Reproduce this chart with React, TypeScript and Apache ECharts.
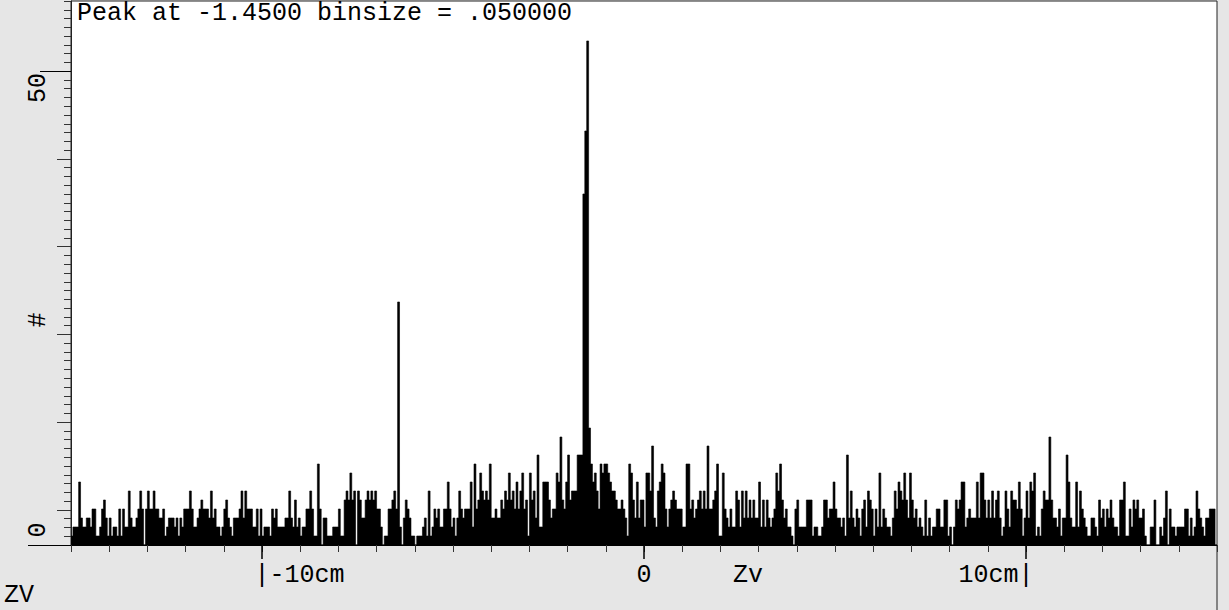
import React, { useEffect, useRef } from "react";
import * as echarts from "echarts";

// Histogram range and bin size (cm)
const X_MIN = -15;
const X_MAX = 15;
const BIN_SIZE = 0.05;
const Y_MAX = 60.44;

// Counts per 0.05 cm bin, in 5 cm segments
const countsM15toM10 = [
  1, 2, 2, 2, 7, 3, 2, 2, 3, 3, 2, 4, 4, 1, 1, 2, 4, 5, 3, 1,
  3, 1, 2, 2, 1, 4, 1, 4, 2, 2, 6, 3, 2, 2, 3, 4, 6, 4, 0, 4,
  6, 4, 4, 6, 4, 4, 3, 3, 4, 1, 2, 3, 3, 3, 2, 3, 1, 3, 2, 4,
  4, 4, 6, 4, 2, 2, 3, 4, 5, 4, 4, 4, 3, 6, 3, 4, 2, 2, 1, 2,
  4, 5, 3, 2, 1, 3, 3, 3, 4, 6, 3, 6, 4, 4, 4, 2, 2, 4, 1, 4,
];
const countsM10toM5 = [
  1, 2, 2, 2, 1, 4, 3, 4, 2, 2, 2, 2, 3, 3, 6, 3, 2, 5, 2, 3,
  1, 2, 2, 4, 4, 6, 4, 1, 1, 9, 4, 0, 3, 3, 1, 1, 1, 2, 2, 2,
  4, 1, 1, 5, 6, 5, 8, 5, 6, 0, 6, 5, 3, 3, 5, 6, 5, 6, 5, 6,
  4, 4, 2, 0, 1, 1, 4, 4, 5, 6, 4, 27, 2, 0, 3, 5, 4, 3, 1, 1,
  0, 1, 1, 1, 2, 3, 1, 6, 1, 2, 4, 3, 4, 2, 2, 4, 4, 7, 4, 2,
];
const countsM5to0 = [
  3, 1, 3, 6, 4, 3, 4, 4, 4, 7, 2, 9, 4, 5, 8, 6, 5, 6, 5, 9,
  3, 3, 4, 3, 3, 5, 4, 6, 5, 8, 5, 6, 4, 7, 4, 6, 8, 4, 5, 1,
  8, 5, 6, 3, 10, 2, 2, 7, 7, 7, 5, 3, 4, 4, 8, 7, 12, 5, 4, 7,
  10, 5, 6, 6, 6, 10, 10, 10, 39, 46, 56, 13, 9, 7, 8, 6, 4, 9, 8, 9,
  9, 8, 7, 6, 6, 5, 4, 4, 5, 4, 3, 1, 9, 8, 5, 3, 7, 3, 5, 5,
];
const counts0to5 = [
  2, 8, 8, 6, 11, 3, 2, 6, 7, 9, 8, 4, 2, 4, 5, 6, 5, 4, 4, 4,
  2, 2, 9, 9, 4, 5, 3, 4, 5, 6, 4, 6, 4, 11, 4, 4, 5, 6, 9, 1,
  1, 8, 4, 3, 2, 4, 2, 2, 6, 5, 2, 6, 3, 6, 3, 5, 3, 5, 3, 3,
  7, 2, 5, 2, 5, 3, 2, 3, 4, 8, 6, 9, 5, 3, 4, 2, 2, 1, 0, 4,
  5, 2, 2, 2, 2, 5, 5, 5, 1, 2, 2, 1, 1, 2, 5, 5, 3, 4, 4, 7,
];
const counts5to10 = [
  4, 3, 3, 2, 3, 1, 10, 3, 6, 3, 2, 4, 3, 1, 4, 5, 2, 6, 5, 4,
  1, 4, 2, 8, 2, 4, 3, 2, 2, 1, 3, 6, 4, 7, 6, 5, 8, 5, 3, 8,
  5, 3, 4, 2, 3, 2, 1, 5, 1, 3, 1, 2, 2, 4, 4, 2, 2, 5, 5, 1,
  2, 0, 2, 5, 4, 5, 7, 7, 2, 3, 4, 3, 3, 3, 7, 3, 8, 8, 5, 3,
  5, 3, 6, 3, 5, 6, 3, 1, 2, 6, 4, 2, 6, 5, 5, 4, 7, 4, 1, 3,
];
const counts10to15 = [
  6, 3, 7, 6, 8, 1, 2, 1, 4, 6, 5, 5, 12, 5, 3, 3, 2, 4, 1, 3,
  3, 10, 7, 3, 2, 2, 7, 2, 6, 4, 3, 2, 1, 1, 3, 3, 2, 1, 5, 3,
  4, 2, 4, 3, 5, 3, 2, 2, 1, 5, 5, 7, 1, 1, 4, 2, 5, 4, 5, 3,
  3, 4, 1, 0, 0, 2, 2, 5, 0, 0, 2, 1, 3, 6, 0, 4, 2, 2, 1, 2,
  2, 2, 2, 4, 4, 1, 3, 1, 2, 6, 4, 3, 2, 1, 3, 3, 4, 4, 4, 0,
];

const binCounts = [
  ...countsM15toM10,
  ...countsM10toM5,
  ...countsM5to0,
  ...counts0to5,
  ...counts5to10,
  ...counts10to15,
];
// Histogram as [left bin edge, count]; the last point closes the final bin
const histPoints: [number, number][] = binCounts.map((c, i) => [
  +(X_MIN + i * BIN_SIZE).toFixed(3),
  c,
]);
histPoints.push([X_MAX, binCounts[binCounts.length - 1]]);

// Axis decoration
const xMinorTicks = Array.from({ length: 31 }, (_, i) => X_MIN + i);
const xMajorTicks = [-10, 0, 10];
const xTickLabels: Record<string, string> = { "-10": "|-10cm", "0": "0", "10": "10cm|" };
const Y_DECO_MIN = -4;
const Y_DECO_MAX = 58;
const yMinorTicks = Array.from({ length: 63 }, (_, i) => Y_DECO_MIN + i);
const yMediumTicks = [0, 10, 20, 30, 40];
const yLabelTicks = [50];
const yBaseTicks = [Y_DECO_MIN];

const titleText = "Peak at -1.4500 binsize = .050000";
const xTitle = "Zv";
const cornerText = "ZV";
const yTitle = "#";
const yLabelTop = "50";
const yLabelBottom = "0";

export default function App() {
  const ref = useRef<HTMLDivElement>(null);

  useEffect(() => {
    if (!ref.current) return;
    const chart = echarts.init(ref.current, null, { renderer: "svg" });
    const font = "'Liberation Mono', 'DejaVu Sans Mono', monospace";
    const tickStyle = { color: "#333", width: 1 };
    const CH = 25 * 0.6;
    const decoY = {
      type: "value",
      position: "left",
      min: Y_DECO_MIN,
      max: Y_DECO_MAX,
      axisLine: { show: false, onZero: false },
      axisLabel: { show: false },
      splitLine: { show: false },
    };
    const txt = (text: string, x: number, y: number, align: string, rot = 0) => ({
      type: "text",
      x,
      y,
      rotation: rot,
      silent: true,
      style: {
        text,
        fill: "#000",
        fontSize: 25,
        fontFamily: font,
        align,
        verticalAlign: "middle",
        textAlign: align,
        textVerticalAlign: "middle",
      },
    });

    chart.setOption({
      animation: false,
      backgroundColor: "#e6e6e6",
      grid: {
        left: 71,
        right: 12,
        top: 1,
        bottom: 65,
        show: true,
        backgroundColor: "#ffffff",
        borderColor: "#222",
        borderWidth: 1,
      },
      xAxis: [
        {
          type: "value",
          position: "bottom",
          min: X_MIN,
          max: X_MAX,
          axisLine: { show: true, onZero: false, lineStyle: { color: "#000", width: 1 } },
          axisTick: { show: true, customValues: xMinorTicks, length: 7, lineStyle: tickStyle },
          axisLabel: { show: false },
          splitLine: { show: false },
        },
        {
          type: "value",
          position: "bottom",
          min: X_MIN,
          max: X_MAX,
          axisLine: { show: false, onZero: false },
          axisTick: { show: true, customValues: xMajorTicks, length: 14, lineStyle: { color: "#000", width: 1.5 } },
          axisLabel: {
            show: true,
            customValues: xMajorTicks,
            margin: 18,
            formatter: (v: number) => {
              const t = xTickLabels[String(v)];
              if (v < 0) return "{pad| }{t|" + t + "}";
              if (v > 0) return "{t|" + t + "}{pad2| }";
              return "{t|" + t + "}";
            },
            rich: {
              t: { fontFamily: font, fontSize: 25, color: "#000" },
              pad: { width: CH * 5, fontSize: 25, fontFamily: font },
              pad2: { width: CH * 4, fontSize: 25, fontFamily: font },
            },
          },
          splitLine: { show: false },
        },
      ],
      yAxis: [
        {
          type: "value",
          position: "left",
          min: 0,
          max: Y_MAX,
          axisLine: { show: true, onZero: false, lineStyle: { color: "#222", width: 1 } },
          axisTick: { show: false },
          axisLabel: { show: false },
          splitLine: { show: false },
        },
        { ...decoY, axisTick: { show: true, customValues: yMinorTicks, length: 7, lineStyle: tickStyle } },
        { ...decoY, axisTick: { show: true, customValues: yMediumTicks, length: 14, lineStyle: tickStyle } },
        { ...decoY, axisTick: { show: true, customValues: yLabelTicks, length: 31, lineStyle: { color: "#000", width: 1 } } },
        { ...decoY, axisTick: { show: true, customValues: yBaseTicks, length: 43, lineStyle: { color: "#000", width: 1 } } },
      ],
      series: [
        {
          type: "line",
          xAxisIndex: 0,
          yAxisIndex: 0,
          data: histPoints,
          step: "end",
          symbol: "none",
          silent: true,
          lineStyle: { color: "#000", width: 0.6 },
          areaStyle: { color: "#000", opacity: 1, origin: "start" },
        },
      ],
      graphic: [
        txt(titleText, 77, 13, "left"),
        txt(yLabelTop, 38, 88, "center", Math.PI / 2),
        txt(yTitle, 38, 320, "center", Math.PI / 2),
        txt(yLabelBottom, 38, 530, "center", Math.PI / 2),
        txt(xTitle, 748, 575, "center"),
        txt(cornerText, 4, 595, "left"),
        {
          type: "line",
          silent: true,
          shape: { x1: 1217, y1: 545, x2: 1217, y2: 610 },
          style: { stroke: "#222", lineWidth: 1 },
        },
      ],
    });
    return () => chart.dispose();
  }, []);

  return (
    <div
      ref={ref}
      style={{ position: "fixed", left: 0, top: 0, width: 1229, height: 610 }}
    />
  );
}
